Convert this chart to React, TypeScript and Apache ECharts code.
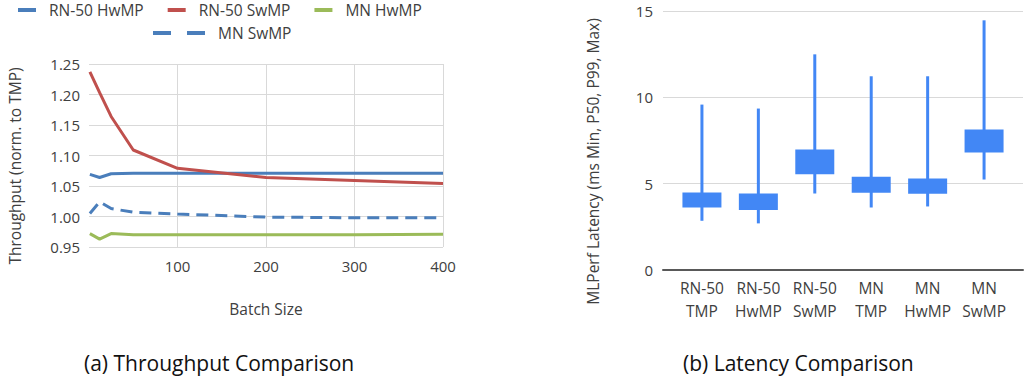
import React, { useEffect, useRef } from "react";
import * as echarts from "echarts";

// ---------- Data: (a) Throughput comparison ----------
const batchSizes = [1, 12, 25, 50, 100, 200, 300, 400];
const rn50HwMP = [1.069, 1.064, 1.07, 1.071, 1.071, 1.071, 1.071, 1.071];
const rn50SwMP = [1.237, 1.203, 1.164, 1.109, 1.079, 1.064, 1.059, 1.054];
const mnHwMP = [0.972, 0.963, 0.972, 0.97, 0.97, 0.97, 0.97, 0.971];
const mnSwMP = [1.005, 1.024, 1.013, 1.007, 1.004, 0.999, 0.998, 0.998];

// ---------- Data: (b) Latency comparison ----------
const latencyCategories = ["RN-50\nTMP", "RN-50\nHwMP", "RN-50\nSwMP", "MN\nTMP", "MN\nHwMP", "MN\nSwMP"];
const latencyMin = [2.85, 2.7, 4.43, 3.62, 3.68, 5.24];
const latencyP50 = [3.62, 3.47, 5.55, 4.47, 4.41, 6.81];
const latencyP99 = [4.49, 4.43, 6.98, 5.4, 5.3, 8.14];
const latencyMax = [9.58, 9.35, 12.49, 11.22, 11.22, 14.46];

const FONT = "Open Sans";
const TEXT = "#404040";
const GRID = "#d9d9d9";

function pairs(xs: number[], ys: number[]) {
  return xs.map((x, i) => [x, ys[i]]);
}

export default function App() {
  const ref = useRef<HTMLDivElement>(null);

  useEffect(() => {
    if (!ref.current) return;
    const chart = echarts.init(ref.current, null, { renderer: "svg" });

    const boxData = latencyCategories.map((_, i) => [
      i + 1,
      latencyMin[i],
      latencyP50[i],
      latencyP99[i],
      latencyMax[i],
    ]);

    const lineSeries = (name: string, data: number[], color: string, dashed = false) => ({
      type: "line",
      name,
      xAxisIndex: 0,
      yAxisIndex: 0,
      data: pairs(batchSizes, data),
      symbol: "none",
      color,
      lineStyle: { color, width: 3, type: dashed ? [12, 7] : "solid" },
      z: 3,
    });

    const legendText = { fontFamily: FONT, fontSize: 15.5, color: TEXT, padding: [0, 0, 0, 8] };

    chart.setOption({
      animation: false,
      backgroundColor: "#ffffff",
      textStyle: { fontFamily: FONT },
      title: [
        {
          text: "(a) Throughput Comparison",
          left: 84,
          top: 352,
          padding: 0,
          textStyle: { fontFamily: FONT, fontSize: 21, fontWeight: "normal", color: "#111" },
        },
        {
          text: "(b) Latency Comparison",
          left: 683,
          top: 352,
          padding: 0,
          textStyle: { fontFamily: FONT, fontSize: 21, fontWeight: "normal", color: "#111" },
        },
      ],
      legend: [
        {
          data: ["RN-50 HwMP", "RN-50 SwMP", "MN HwMP"],
          left: 18,
          top: 2,
          padding: 0,
          icon: "rect",
          itemWidth: 18,
          itemHeight: 4,
          itemGap: 24,
          selectedMode: false,
          textStyle: legendText,
        },
        {
          data: ["MN SwMP"],
          left: 153,
          top: 25,
          padding: 0,
          icon: "path://M0,0h18v4h-18zM34,0h18v4h-18z",
          itemWidth: 52,
          itemHeight: 4,
          selectedMode: false,
          textStyle: legendText,
        },
      ],
      grid: [
        { left: 89, top: 64, width: 354, height: 183 },
        { left: 663, top: 11, width: 360, height: 259 },
      ],
      xAxis: [
        {
          gridIndex: 0,
          type: "value",
          min: 0,
          max: 400,
          interval: 100,
          name: "Batch Size",
          nameLocation: "middle",
          nameGap: 54,
          nameTextStyle: { fontFamily: FONT, fontSize: 15.5, color: TEXT },
          axisLine: { show: false },
          axisTick: { show: false },
          axisLabel: { showMinLabel: false, fontFamily: FONT, fontSize: 15, color: TEXT, margin: 11 },
          splitLine: { show: true, showMinLine: false, lineStyle: { color: GRID, width: 1 } },
        },
        {
          gridIndex: 1,
          type: "value",
          min: 0.31,
          max: 6.69,
          axisLine: { show: true, onZero: false, lineStyle: { color: "#595959", width: 2 } },
          axisTick: { show: false },
          splitLine: { show: false },
          axisLabel: {
            customValues: latencyCategories.map((_, i) => i + 1),
            formatter: (v: number) => latencyCategories[Math.round(v) - 1] ?? "",
            fontFamily: FONT,
            fontSize: 15.5,
            color: TEXT,
            lineHeight: 23,
            margin: 6,
          },
        },
      ],
      yAxis: [
        {
          gridIndex: 0,
          type: "value",
          min: 0.95,
          max: 1.25,
          interval: 0.05,
          name: "Throughput (norm. to TMP)",
          nameLocation: "middle",
          nameGap: 66,
          nameTextStyle: { fontFamily: FONT, fontSize: 15.5, color: TEXT, padding: [0, 21, 0, 0] },
          axisLine: { show: false },
          axisTick: { show: false },
          axisLabel: {
            fontFamily: FONT,
            fontSize: 15,
            color: TEXT,
            margin: 9,
            formatter: (v: number) => v.toFixed(2),
          },
          splitLine: { show: true, lineStyle: { color: GRID, width: 1 } },
        },
        {
          gridIndex: 1,
          type: "value",
          min: 0,
          max: 15,
          interval: 5,
          name: "MLPerf Latency (ms Min, P50, P99, Max)",
          nameLocation: "middle",
          nameGap: 62,
          nameTextStyle: { fontFamily: FONT, fontSize: 15.5, color: TEXT, padding: [0, 42, 0, 0] },
          axisLine: { show: false },
          axisTick: { show: false },
          axisLabel: { fontFamily: FONT, fontSize: 15, color: TEXT, margin: 10 },
          splitLine: { show: true, lineStyle: { color: GRID, width: 1 } },
        },
      ],
      series: [
        lineSeries("RN-50 HwMP", rn50HwMP, "#4a7ebb"),
        lineSeries("RN-50 SwMP", rn50SwMP, "#c0504d"),
        lineSeries("MN HwMP", mnHwMP, "#9bbb59"),
        lineSeries("MN SwMP", mnSwMP, "#4a7ebb", true),
        {
          type: "custom",
          name: "Latency",
          xAxisIndex: 1,
          yAxisIndex: 1,
          data: boxData,
          encode: { x: 0, y: [1, 2, 3, 4] },
          renderItem: (params: any, api: any) => {
            const x = api.value(0);
            const pMin = api.coord([x, api.value(1)]);
            const p50 = api.coord([x, api.value(2)]);
            const p99 = api.coord([x, api.value(3)]);
            const pMax = api.coord([x, api.value(4)]);
            const w = 39;
            const color = "#4287f5";
            return {
              type: "group",
              children: [
                {
                  type: "line",
                  shape: { x1: pMin[0], y1: pMin[1], x2: pMax[0], y2: pMax[1] },
                  style: { stroke: color, lineWidth: 3 },
                },
                {
                  type: "rect",
                  shape: { x: p50[0] - w / 2, y: p99[1], width: w, height: p50[1] - p99[1] },
                  style: { fill: color },
                },
              ],
            };
          },
          z: 3,
        },
      ],
    });

    return () => chart.dispose();
  }, []);

  return (
    <div
      ref={ref}
      style={{ position: "fixed", left: 0, top: 0, width: 1025, height: 384, background: "#fff" }}
    />
  );
}
